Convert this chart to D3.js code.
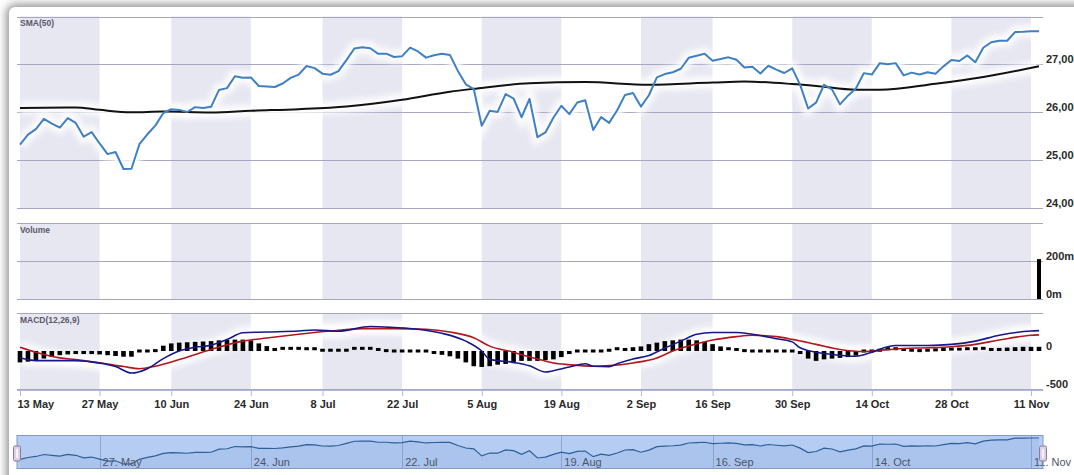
<!DOCTYPE html>
<html>
<head>
<meta charset="utf-8">
<script src="https://cdn.jsdelivr.net/npm/d3@7"></script>
<style>
html,body{margin:0;padding:0;background:#fff;overflow:hidden}
#card{position:absolute;left:9px;top:7px;width:1200px;height:600px;background:#fff;border-radius:6px;box-shadow:0 0 9px 3px rgba(0,0,0,0.42)}
#chart{position:absolute;left:0;top:0}
text{font-family:"Liberation Sans",Arial,sans-serif}
</style>
</head>
<body>
<div id="card"></div>
<div id="chart"></div>
<script>
// trading calendar
var holidays = ["2019-05-27","2019-07-04","2019-09-02"];

// daily close, 13 May .. 12 Nov
var closes = [
25325,25532,25648,25863,25764, 25680,25877,25777,25490,25586,
25348,25126,25170,24815, 24820,25332,25540,25721,25984,
26063,26049,26005,26107,26090, 26113,26466,26504,26753,26719,
26728,26548,26537,26527,26600, 26717,26787,26966,26922,
26806,26783,26860,27088,27332, 27359,27336,27220,27223,27154,
27172,27349,27270,27141,27192, 27221,27198,26864,26583,26485,
25718,26030,26007,26378,26287, 25896,26280,25479,25579,25886,
26136,25962,26203,26252,25629, 25899,25778,26036,26362,26403,
26118,26355,26728,26797, 26836,26909,27137,27182,27220,
27077,27111,27147,27095,26935, 26950,26808,26971,26891,26820,
26917,26573,26079,26201,26574, 26478,26164,26346,26497,26817,
26787,27025,27002,27026,26770, 26828,26788,26834,26806,26958,
27091,27071,27187,27046,27347, 27462,27493,27493,27675,27681,
27691,27691
];

// SMA(50), read at trading-day numbers
var smaDay = [0,7,10,14,18,24,29,35,41,48,54,57,64,71,79,87,91,97,100,105,108,115,121,128];
var smaVal = [26090,26100,26050,26000,26015,25995,26030,26065,26120,26260,26430,26490,26605,26630,26575,26620,26640,26590,26550,26470,26470,26595,26735,26960];

// MACD(12,26,9)
var macdDay = [0,2,7,10,12,14,16,18,20,22,24,26,28,31,35,37,40,44,47,50,53,56,58,59,62,64,66,67,69,71,72,74,75,77,79,81,83,85,87,90,92,95,97,98,100,102,105,107,109,110,114,117,120,123,127,128];
var macdVal = [-90,-127,-127,-160,-205,-290,-233,-100,0,50,75,150,240,250,263,277,260,322,309,286,233,130,0,-110,-150,-195,-277,-260,-211,-167,-200,-205,-167,-104,-60,40,130,220,243,243,220,162,120,42,-16,-46,-69,-16,56,73,73,87,130,207,263,268];
var signalDay = [0,2,5,7,10,13,15,17,20,24,28,31,35,39,43,47,51,54,57,59,62,63,65,67,69,72,74,77,80,82,85,87,90,92,95,97,100,103,106,107,111,114,117,120,123,127,128];
var signalVal = [50,-16,-90,-113,-155,-205,-233,-200,-113,20,130,170,220,263,295,295,286,250,175,64,-16,-50,-104,-157,-180,-200,-193,-157,-91,0,96,144,189,207,189,153,87,20,-7,0,33,42,56,87,144,207,212];
var histVal = [
-150,-140,-120,-100,-80,-55,-45,-40,-40,-40,
-45,-55,-65,-75,-75,-35,-10,5,70,100,
110,115,120,125,130,140,145,150,150,140,
100,65,40,35,35,35,30,30,10,10,
10,10,35,35,35,20,5,0,-5,-20,
-25,-30,-40,-50,-70,-100,-150,-200,-210,-200,
-180,-170,-160,-130,-130,-130,-120,-110,-80,-40,
-10,-5,-5,-5,10,30,40,50,60,90,
110,130,140,150,150,140,120,90,60,30,
20,5,-5,-10,-15,-20,-30,-30,-40,-100,
-130,-110,-100,-90,-80,-60,-30,0,10,30,
30,20,10,5,10,15,20,25,25,30,
30,35,40,40,45,50,55,55,55
];

// volume (millions)
var volumeDay = [128];
var volumeVal = [210];

var priceTicks = [24000,25000,26000,27000,28000];
var volumeTicks = [0,200,400];
var macdTicks = [-500,0,500];
var axisDates = ["2019-05-13","2019-05-27","2019-06-10","2019-06-24","2019-07-08","2019-07-22","2019-08-05","2019-08-19","2019-09-02","2019-09-16","2019-09-30","2019-10-14","2019-10-28","2019-11-11"];
var navDates = ["2019-05-27","2019-06-24","2019-07-22","2019-08-19","2019-09-16","2019-10-14","2019-11-11"];

var W = 1074, H = 475, left = 17, right = 1043;
var parse = d3.timeParse("%Y-%m-%d"), iso = d3.timeFormat("%Y-%m-%d");
var days = d3.timeDay.range(parse("2019-05-13"), parse("2019-11-13")).filter(function(d){
  return d.getDay() % 6 !== 0 && holidays.indexOf(iso(d)) < 0;
});
function dayOf(s){ return d3.bisectLeft(days, parse(s)); }

var x = d3.scaleLinear().domain([0, days.length - 1]).range([20, 1039]);
var yPrice = d3.scaleLinear().domain([24000, 28000]).range([208, 16.5]);
var yVol = d3.scaleLinear().domain([0, 400]).range([299, 223]);
var yMacd = d3.scaleLinear().domain([-500, 500]).range([389, 313]);
var yNav = d3.scaleLinear().domain(d3.extent(closes)).range([464, 438]);

var axisIdx = axisDates.map(dayOf);
var navIdx = navDates.map(dayOf);

var svg = d3.select("#chart").append("svg").attr("width", W).attr("height", H);
var defs = svg.append("defs");
defs.append("filter").attr("id", "halo").attr("filterUnits", "userSpaceOnUse")
  .attr("x", 0).attr("y", 0).attr("width", W).attr("height", H)
  .append("feGaussianBlur").attr("stdDeviation", 3);

var panels = [
  {name:"SMA(50)", top:16.5, bottom:208, y:yPrice, ticks:priceTicks, fmt:d3.format(",")},
  {name:"Volume", top:223, bottom:299, y:yVol, ticks:volumeTicks, fmt:function(v){return v + "m";}},
  {name:"MACD(12,26,9)", top:313, bottom:389, y:yMacd, ticks:macdTicks, fmt:function(v){return v;}}
];

panels.forEach(function(p){
  var g = svg.append("g");
  for (var k = 0; k + 1 < axisIdx.length; k += 2) {
    g.append("rect").attr("x", x(axisIdx[k])).attr("y", p.top)
      .attr("width", x(axisIdx[k+1]) - x(axisIdx[k])).attr("height", p.bottom - p.top)
      .attr("fill", "#e7e7f2");
  }
  var lines = p.ticks.filter(function(t){ return p.name !== "MACD(12,26,9)" || t !== 0; });
  g.selectAll(".grid").data(lines).enter().append("line")
    .attr("x1", left).attr("x2", right)
    .attr("y1", function(d){ return Math.round(p.y(d)) + 0.5; })
    .attr("y2", function(d){ return Math.round(p.y(d)) + 0.5; })
    .attr("stroke", "#a6a6c2").attr("stroke-width", 1);
  g.selectAll(".lab").data(p.ticks.slice(0, -1)).enter().append("text")
    .attr("x", 1046).attr("y", function(d){ return p.y(d) - 1.5; })
    .attr("font-size", 11).attr("font-weight", "bold").attr("fill", "#2a2a2a")
    .text(p.fmt);
  g.append("text").attr("x", 20).attr("y", p.top + 9.5)
    .attr("font-size", 8.5).attr("font-weight", "bold").attr("fill", "#5a5a6a")
    .text(p.name);
});

function halo(path){
  svg.append("path").attr("d", path).attr("fill", "none")
    .attr("stroke", "#fff").attr("stroke-width", 11).attr("filter", "url(#halo)");
}

// price + SMA
var priceLine = d3.line().x(function(d, i){ return x(i); }).y(function(d){ return yPrice(d); });
var smaLine = d3.line().curve(d3.curveMonotoneX)
  .x(function(d){ return x(d); }).y(function(d, i){ return yPrice(smaVal[i]); });
halo(priceLine(closes));
halo(smaLine(smaDay));
svg.append("path").attr("d", smaLine(smaDay)).attr("fill", "none")
  .attr("stroke", "#111").attr("stroke-width", 2);
svg.append("path").attr("d", priceLine(closes)).attr("fill", "none")
  .attr("stroke", "#3f80c4").attr("stroke-width", 2).attr("stroke-linejoin", "round");

// volume
svg.selectAll(".vol").data(volumeDay).enter().append("rect")
  .attr("x", function(d){ return x(d) - 2; }).attr("width", 4)
  .attr("y", function(d, i){ return yVol(volumeVal[i]); })
  .attr("height", function(d, i){ return yVol(0) - yVol(volumeVal[i]); })
  .attr("fill", "#000");

// MACD
var macdLine = d3.line().curve(d3.curveMonotoneX)
  .x(function(d){ return x(d); }).y(function(d, i){ return yMacd(macdVal[i]); });
var signalLine = d3.line().curve(d3.curveMonotoneX)
  .x(function(d){ return x(d); }).y(function(d, i){ return yMacd(signalVal[i]); });
halo(macdLine(macdDay));
halo(signalLine(signalDay));
svg.selectAll(".hist").data(histVal).enter().append("rect")
  .attr("x", function(d, i){ return x(i) - 2.3; }).attr("width", 4.6)
  .attr("y", function(d){ return Math.min(yMacd(d), yMacd(0)) - (Math.abs(yMacd(d) - yMacd(0)) < 3 ? 1.5 : 0); })
  .attr("height", function(d){ return Math.max(3, Math.abs(yMacd(d) - yMacd(0))); })
  .attr("fill", "#000");
svg.append("path").attr("d", signalLine(signalDay)).attr("fill", "none")
  .attr("stroke", "#b3171c").attr("stroke-width", 1.6);
svg.append("path").attr("d", macdLine(macdDay)).attr("fill", "none")
  .attr("stroke", "#17178c").attr("stroke-width", 1.6);

// x axis
var xAxis = d3.axisBottom(x).tickValues(axisIdx).tickSize(6).tickPadding(4)
  .tickFormat(function(d, i){ return d3.timeFormat("%-d %b")(parse(axisDates[i])); });
var ax = svg.append("g").attr("transform", "translate(0,390)").call(xAxis);
ax.select(".domain").remove();
ax.selectAll(".tick line").attr("stroke", "#a9bcdc");
ax.selectAll(".tick text").attr("font-size", 11).attr("font-weight", "bold").attr("fill", "#2a2a2a")
  .attr("font-family", "Liberation Sans, Arial, sans-serif");
ax.select(".tick text").attr("text-anchor", "start").attr("x", -3);
svg.append("line").attr("x1", left).attr("x2", right).attr("y1", 390.5).attr("y2", 390.5)
  .attr("stroke", "#a9bcdc");

// navigator
var nav = svg.append("g");
nav.append("rect").attr("x", left).attr("y", 435).attr("width", right - left).attr("height", 33)
  .attr("fill", "#b6cdf3");
nav.selectAll(".ng").data(navIdx).enter().append("line")
  .attr("x1", function(d){ return Math.round(x(d)) + 0.5; })
  .attr("x2", function(d){ return Math.round(x(d)) + 0.5; })
  .attr("y1", 435).attr("y2", 468).attr("stroke", "#8ea8d4");
var navArea = d3.area().x(function(d, i){ return x(i); }).y0(468).y1(function(d){ return yNav(d); });
nav.append("path").attr("d", navArea(closes)).attr("fill", "rgba(70,115,190,0.10)");
nav.append("path").attr("d", d3.line().x(function(d, i){ return x(i); }).y(function(d){ return yNav(d); })(closes))
  .attr("fill", "none").attr("stroke", "#2f5f98").attr("stroke-width", 1.2);
nav.selectAll(".nl").data(navIdx).enter().append("text")
  .attr("x", function(d){ return x(d) + 3; }).attr("y", 466)
  .attr("font-size", 11).attr("fill", "#4d5566")
  .text(function(d, i){ return d3.timeFormat("%-d. %b")(parse(navDates[i])); });
nav.append("rect").attr("x", left).attr("y", 435.5).attr("width", right - left).attr("height", 33)
  .attr("fill", "none").attr("stroke", "#8499c2");
[left, right].forEach(function(hx){
  nav.append("rect").attr("x", hx - 3.5).attr("y", 446).attr("width", 7).attr("height", 15).attr("rx", 1.5)
    .attr("fill", "#ddd0e6").attr("stroke", "#8f7a9e");
  nav.append("rect").attr("x", hx - 1).attr("y", 449).attr("width", 2).attr("height", 9)
    .attr("fill", "#f6f2f8");
});
</script>
</body>
</html>
